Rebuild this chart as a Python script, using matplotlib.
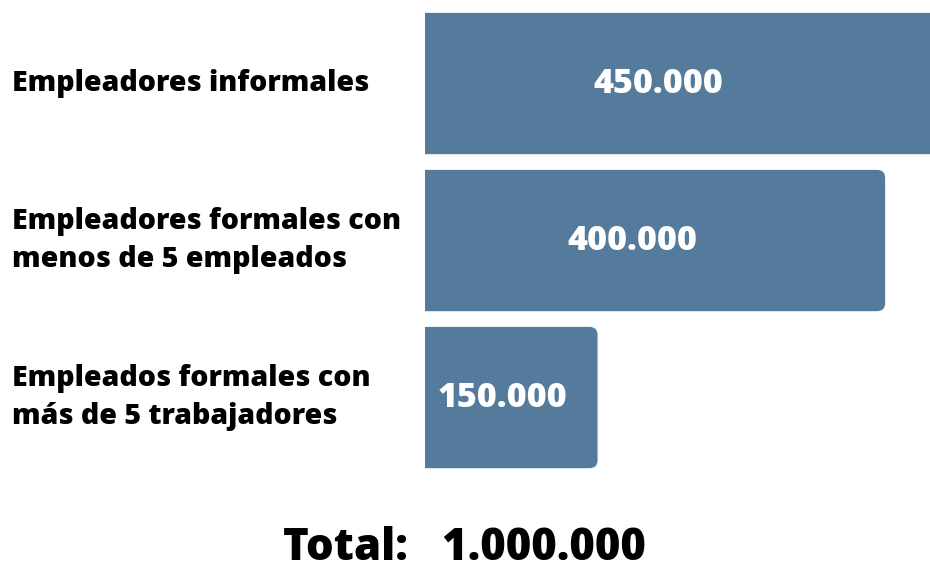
import matplotlib
matplotlib.use('Agg')
import matplotlib.pyplot as plt
from matplotlib.patches import FancyBboxPatch

plt.rcParams['font.family'] = ['Open Sans', 'DejaVu Sans']

# data
categories = [
    "Empleadores informales",
    "Empleadores formales con\nmenos de 5 empleados",
    "Empleados formales con\nmás de 5 trabajadores",
]
values = [450000, 400000, 150000]
total = sum(values)

BAR_COLOR = '#547b9c'
WEIGHT = 800


def fmt(n):
    # dots as thousand separator
    return "{:,}".format(n).replace(",", ".")


fig = plt.figure(figsize=(9.3, 5.72), dpi=100)

# bar area: starts at x=425px, runs to the right edge
ax = fig.add_axes([425 / 930, 0, 505 / 930, 1])
ax.set_xlim(0, 439)           # thousands
ax.set_ylim(3.111, -0.532)
ax.axis('off')

bars = ax.barh(range(len(values)), [v / 1000 for v in values], height=0.9)

# swap the plain bars for ones with rounded right corners
for b, v in zip(bars, values):
    b.set_visible(False)
    x0, y0 = b.get_x(), b.get_y()
    w, h = b.get_width(), b.get_height()
    box = FancyBboxPatch((x0 - 20, y0), w + 20, h,
                         boxstyle="round,pad=0,rounding_size=7",
                         mutation_aspect=1.15 / 157,
                         facecolor=BAR_COLOR, edgecolor='none',
                         clip_on=True)
    ax.add_patch(box)
    box.set_clip_path(ax.patch)
    ax.text(v / 1000 * 0.45, y0 + h / 2, fmt(v), ha='center',
            va='center', color='white', fontsize=24.5, fontweight=WEIGHT)

# category labels on the left
for i, cat in enumerate(categories):
    ypix = ax.transData.transform((0, i))[1]
    fig.text(12 / 930, ypix / 572, cat, ha='left', va='center',
             fontsize=20.5, fontweight=WEIGHT, color='black', linespacing=1.4)

fig.text(464 / 930, 12 / 572, "Total:   " + fmt(total), ha='center',
         va='baseline', fontsize=31.5, fontweight=WEIGHT, color='black')

fig.savefig('out.png', dpi=100)
